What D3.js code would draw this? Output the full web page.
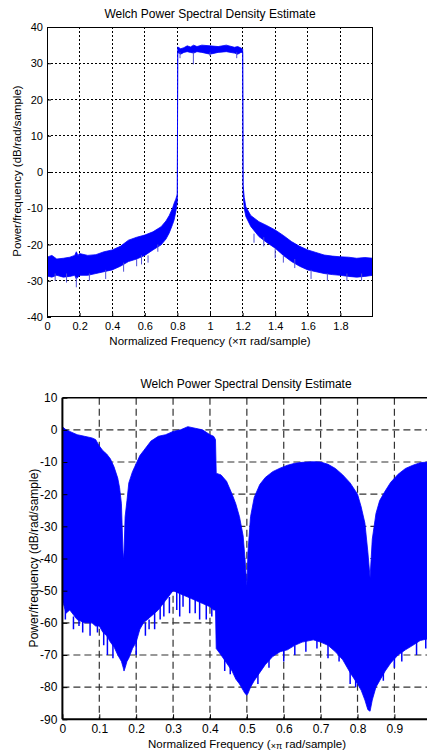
<!DOCTYPE html>
<html><head><meta charset="utf-8">
<script src="https://cdn.jsdelivr.net/npm/d3@7"></script>
<style>body{margin:0;background:#fff}svg{display:block}</style>
</head><body>
<svg id="c" width="427" height="751"></svg>
<script>
// ---------- Top chart data ----------
const topFreq  = [0,0.03,0.06,0.1,0.14,0.17,0.18,0.19,0.2,0.25,0.3,0.35,0.4,0.45,0.5,0.55,0.6,0.65,0.7,0.73,0.75,0.77,0.78,0.79,0.797,0.7995,0.802,0.82,0.84,0.86,0.88,0.9,0.92,0.95,1.0,1.05,1.1,1.15,1.17,1.19,1.198,1.2005,1.203,1.21,1.22,1.25,1.3,1.35,1.4,1.45,1.5,1.55,1.6,1.65,1.7,1.75,1.8,1.85,1.9,1.95,2.0];
const topUpper = [-23.5,-23,-24,-23.8,-23.5,-23,-22,-23,-22.5,-23,-22.8,-22,-21.5,-20.5,-18.8,-18,-17.4,-16.5,-15.1,-13.5,-12,-10,-8.6,-7.5,-6.5,-6,34.5,34,34.3,34.8,34.5,35,34.6,35,34.8,34.6,35,34.4,34.6,34.2,34,33.8,-3.5,-7,-9.6,-12,-13.7,-14.8,-16,-17.5,-19.2,-20.5,-21.5,-22.2,-22.9,-23.2,-23.4,-23.5,-23.8,-23.6,-23.8];
const topLower = [-28.7,-29,-28.5,-29,-28.8,-28.5,-29.5,-29,-28.5,-28.5,-28,-27.5,-27,-26,-24.7,-24,-23,-21.5,-20.1,-18.5,-16.8,-14.5,-13.2,-11,-9,-8,33,32.5,33,33.2,33,32.8,33.2,33,32.5,33,33.2,32.8,32.5,33,33,33,-6,-10,-12.3,-15,-17.8,-19.5,-21,-23,-24.7,-26,-27,-27.5,-28,-28.3,-28.5,-28.8,-29,-28.8,-28.5];
const topSpikeFreq = [0.18,0.816,0.898,1.0,1.164,1.4,0.55,0.62,1.33,1.45,0.05,0.12,0.26,0.36,0.47,0.58,0.68,1.27,1.52,1.62,1.72,1.84,1.93];
const topSpikeFrom = [-29,33,33,33,33,-21,-24,-23,-18,-23,-28,-28,-28,-27,-25,-23,-20,-17,-24,-27,-28,-28,-28];
const topSpikeTo   = [-31.8,31.4,29.7,32,31.4,-23.8,-26,-25,-20.5,-25,-30,-30.5,-30,-29.5,-27.5,-25.5,-22,-19.5,-26.5,-29.5,-30,-30,-30];
const topXTicks = [0,0.2,0.4,0.6,0.8,1,1.2,1.4,1.6,1.8];
const topXGrid  = [0.2,0.4,0.6,0.8,1,1.2,1.4,1.6,1.8];
const topYTicks = [40,30,20,10,0,-10,-20,-30,-40];
const topYGrid  = [30,20,10,0,-10,-20,-30];

// ---------- Bottom chart data ----------
const botFreq  = [0,0.01,0.02,0.04,0.06,0.08,0.09,0.1,0.11,0.12,0.13,0.14,0.15,0.155,0.16,0.165,0.167,0.17,0.175,0.18,0.19,0.2,0.21,0.22,0.24,0.26,0.28,0.3,0.32,0.34,0.36,0.38,0.4,0.41,0.415,0.417,0.43,0.445,0.46,0.47,0.48,0.49,0.495,0.5,0.503,0.51,0.52,0.535,0.55,0.57,0.59,0.61,0.63,0.65,0.68,0.7,0.72,0.74,0.76,0.78,0.8,0.81,0.82,0.828,0.834,0.84,0.85,0.86,0.875,0.89,0.91,0.93,0.95,0.97,0.99,1.0];
const botUpper = [1,0,-0.5,-1.5,-2,-2.5,-3,-5,-6.5,-7.5,-9,-11.5,-15,-18,-23,-40.5,-38,-27,-22,-16.5,-13,-10.5,-8,-6.5,-3.5,-2,-1.5,-0.5,0,1,0.5,0,-1.5,-2,-3,-13.5,-14,-16,-20,-23,-27,-33,-40,-49,-38,-27,-21,-17,-14.8,-13,-11.9,-11,-10.4,-10.1,-9.9,-10,-10.7,-12,-14,-16.5,-20,-24,-29,-38,-46,-34,-26,-22,-19,-16.3,-13.8,-12,-11,-10.2,-10,-10];
const botLower = [-53,-57,-56,-59,-60,-60,-61,-61,-63,-64,-66,-67.5,-70,-71,-72,-74,-75,-74,-72,-71,-68,-66,-62,-60,-58,-56,-53,-50,-51,-52,-53,-54,-55,-56,-56,-68,-70,-72.5,-75,-77.5,-79,-81,-82,-82.5,-82,-80,-78,-75.5,-73,-70.5,-69,-68.4,-67,-66,-65.3,-66,-67,-69,-71.5,-75.5,-79,-81,-84,-87,-87.5,-84,-80,-78,-75,-72.5,-70,-68.4,-67,-65.5,-65,-65];
const botSpikeFreq = [0.008,0.03,0.045,0.055,0.075,0.095,0.112,0.122,0.137,0.2,0.225,0.235,0.25,0.265,0.275,0.29,0.31,0.318,0.327,0.345,0.36,0.372,0.39,0.405,0.44,0.455,0.53,0.56,0.6,0.63,0.66,0.69,0.72,0.75,0.78,0.795,0.87,0.9,0.92,0.96,0.985];
const botSpikeFrom = [-55,-58,-58,-59,-59,-60,-62,-63,-66,-64,-60,-59,-56,-54,-53,-52,-50,-50.5,-51,-52,-52,-53,-53,-55,-70,-72,-75,-71,-68,-67,-65,-65,-66,-68,-73,-76,-74,-71,-68,-66,-65];
const botSpikeTo   = [-59,-62,-61,-63,-64,-63,-67,-70,-71,-70,-64,-62,-62,-59,-58,-57,-56,-58,-55,-57,-57,-59,-59,-58,-75,-76,-79,-74,-72,-70,-69,-68,-71,-72,-79,-80,-78,-74,-72,-70,-68];
const botXTicks = [0,0.1,0.2,0.3,0.4,0.5,0.6,0.7,0.8,0.9];
const botXGrid  = [0.1,0.2,0.3,0.4,0.5,0.6,0.7,0.8,0.9];
const botYTicks = [10,0,-10,-20,-30,-40,-50,-60,-70,-80,-90];
const botYGrid  = [0,-10,-20,-30,-40,-50,-60,-70,-80];

const title = "Welch Power Spectral Density Estimate";
const yLabel = "Power/frequency (dB/rad/sample)";

const svg = d3.select("#c");

// ================= TOP CHART =================
(function(){
  const L=47,R=373,T=27,B=317;
  const x = d3.scaleLinear().domain([0,2]).range([L,R]);
  const y = d3.scaleLinear().domain([-40,40]).range([B,T]);
  const g = svg.append("g").style("font-family","'Liberation Sans Narrow','Arial Narrow','Liberation Sans',Arial,sans-serif");
  g.append("defs").append("clipPath").attr("id","clipTop").append("rect").attr("x",L).attr("y",T).attr("width",R-L).attr("height",B-T);
  g.append("g").selectAll("line").data(topXGrid).join("line")
    .attr("x1",d=>x(d)).attr("x2",d=>x(d)).attr("y1",T).attr("y2",B)
    .attr("stroke","#000").attr("stroke-width",1).attr("stroke-dasharray","2,2").attr("shape-rendering","crispEdges");
  g.append("g").selectAll("line").data(topYGrid).join("line")
    .attr("y1",d=>y(d)).attr("y2",d=>y(d)).attr("x1",L).attr("x2",R)
    .attr("stroke","#000").attr("stroke-width",1).attr("stroke-dasharray","2,2").attr("shape-rendering","crispEdges");
  const pts = topFreq.map((f,i)=>({f,u:topUpper[i],l:topLower[i]}));
  const area = d3.area().x(d=>x(d.f)).y0(d=>y(d.l)).y1(d=>y(d.u));
  const dg = g.append("g").attr("clip-path","url(#clipTop)");
  dg.append("path").datum(pts).attr("d",area).attr("fill","#0000ff").attr("stroke","#0000ff").attr("stroke-width",0.8);
  dg.selectAll("line.sp").data(topSpikeFreq).join("line").attr("class","sp")
    .attr("x1",d=>x(d)).attr("x2",d=>x(d))
    .attr("y1",(d,i)=>y(topSpikeFrom[i])).attr("y2",(d,i)=>y(topSpikeTo[i]))
    .attr("stroke","#5050d8").attr("stroke-width",1);
  g.append("rect").attr("x",L+0.5).attr("y",T+0.5).attr("width",R-L-1).attr("height",B-T-1)
    .attr("fill","none").attr("stroke","#000").attr("stroke-width",1);
  const xa = d3.axisBottom(x).tickValues(topXTicks).tickSize(-4).tickPadding(5).tickFormat(d=>String(d));
  const ya = d3.axisLeft(y).tickValues(topYTicks).tickSize(-4).tickPadding(4).tickFormat(d=>String(d));
  const gx = g.append("g").attr("transform",`translate(0,${B})`).call(xa);
  const gy = g.append("g").attr("transform",`translate(${L},0)`).call(ya);
  [gx,gy].forEach(a=>{a.select(".domain").remove();a.selectAll("text").attr("font-size",11).attr("fill","#000").style("font-family","inherit");a.selectAll("line").attr("stroke","#000");});
  g.append("text").attr("x",210).attr("y",18).attr("text-anchor","middle").attr("font-size",12).text(title);
  g.append("text").attr("x",210).attr("y",345).attr("text-anchor","middle").attr("font-size",11.5).text("Normalized Frequency  (×π rad/sample)");
  g.append("text").attr("transform","translate(21,171) rotate(-90)").attr("text-anchor","middle").attr("font-size",11.5).text(yLabel);
})();

// ================= BOTTOM CHART =================
(function(){
  const L=62.4,R=431.3,T=397.7,B=719.3;
  const x = d3.scaleLinear().domain([0,1]).range([L,R]);
  const y = d3.scaleLinear().domain([-90,10]).range([B,T]);
  const g = svg.append("g").style("font-family","'Liberation Sans',Arial,sans-serif");
  g.append("defs").append("clipPath").attr("id","clipBot").append("rect").attr("x",L).attr("y",T).attr("width",R-L).attr("height",B-T);
  g.append("g").selectAll("line").data(botXGrid).join("line")
    .attr("x1",d=>x(d)).attr("x2",d=>x(d)).attr("y1",T).attr("y2",B)
    .attr("stroke","#333").attr("stroke-width",1.2).attr("stroke-dasharray","7,4");
  g.append("g").selectAll("line").data(botYGrid).join("line")
    .attr("y1",d=>y(d)).attr("y2",d=>y(d)).attr("x1",L).attr("x2",R)
    .attr("stroke","#333").attr("stroke-width",1.2).attr("stroke-dasharray","7,4");
  const pts = botFreq.map((f,i)=>({f,u:botUpper[i],l:botLower[i]}));
  const area = d3.area().x(d=>x(d.f)).y0(d=>y(d.l)).y1(d=>y(d.u));
  const dg = g.append("g").attr("clip-path","url(#clipBot)");
  dg.append("path").datum(pts).attr("d",area).attr("fill","#0000ff").attr("stroke","#0000ff").attr("stroke-width",0.8);
  dg.selectAll("line.sp").data(botSpikeFreq).join("line").attr("class","sp")
    .attr("x1",d=>x(d)).attr("x2",d=>x(d))
    .attr("y1",(d,i)=>y(botSpikeFrom[i])).attr("y2",(d,i)=>y(botSpikeTo[i]))
    .attr("stroke","#0000ff").attr("stroke-width",1.5);
  g.append("line").attr("x1",L).attr("x2",R).attr("y1",T).attr("y2",T).attr("stroke","#000").attr("stroke-width",1.5);
  g.append("line").attr("x1",L).attr("x2",L).attr("y1",T).attr("y2",B).attr("stroke","#000").attr("stroke-width",2);
  g.append("line").attr("x1",L).attr("x2",R).attr("y1",B).attr("y2",B).attr("stroke","#000").attr("stroke-width",2);
  const xa = d3.axisBottom(x).tickValues(botXTicks).tickSize(-5).tickPadding(5).tickFormat(d=>String(d));
  const ya = d3.axisLeft(y).tickValues(botYTicks).tickSize(-5).tickPadding(5).tickFormat(d=>String(d));
  const gx = g.append("g").attr("transform",`translate(0,${B})`).call(xa);
  const gy = g.append("g").attr("transform",`translate(${L},0)`).call(ya);
  [gx,gy].forEach(a=>{a.select(".domain").remove();a.selectAll("text").attr("font-size",12).attr("fill","#000").style("font-family","inherit");a.selectAll("line").attr("stroke","#000");});
  g.append("text").attr("x",246).attr("y",388).attr("text-anchor","middle").attr("font-size",12).text(title);
  const xl = g.append("text").attr("x",247).attr("y",748).attr("text-anchor","middle").attr("font-size",11.5);
  xl.append("tspan").text("Normalized Frequency  (");
  xl.append("tspan").attr("font-size",9).attr("dy",1).text("×π");
  xl.append("tspan").attr("dy",-1).text(" rad/sample)");
  g.append("text").attr("transform","translate(38,558) rotate(-90)").attr("text-anchor","middle").attr("font-size",12).text(yLabel);
})();
</script>
</body></html>
